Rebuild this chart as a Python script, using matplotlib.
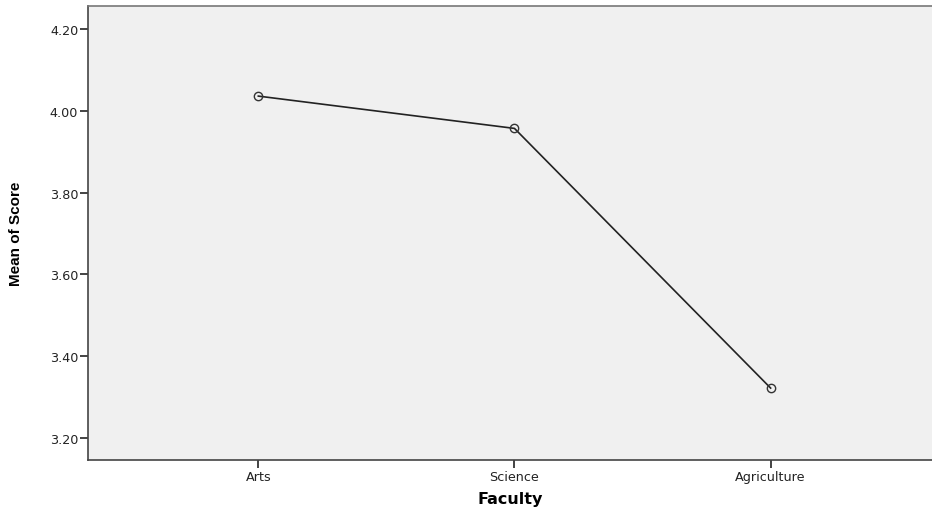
import matplotlib.pyplot as plt

# data
faculties = ['Arts', 'Science', 'Agriculture']
mean_score = [4.036, 3.957, 3.322]
y_ticks = [3.20, 3.40, 3.60, 3.80, 4.00, 4.20]

fig = plt.figure(figsize=(9.32, 5.10), dpi=100)
ax = fig.add_axes([0.0944, 0.096, 0.9056, 0.890])
ax.set_facecolor('#f0f0f0')

x = range(len(faculties))
ax.plot(x, mean_score, color='#222222', linewidth=1.2, marker='o', markersize=6,
        markerfacecolor='none', markeredgecolor='#333333', markeredgewidth=1.0)

ax.set_xlim(-0.665, 2.63)
ax.set_ylim(3.146, 4.256)
ax.set_xticks(list(x))
ax.set_xticklabels(faculties, fontsize=9.2, family='DejaVu Sans', color='#222222')
ax.set_yticks(y_ticks)
ax.set_yticklabels(['%.2f' % v for v in y_ticks], fontsize=9.2, family='DejaVu Sans', color='#222222')
ax.tick_params(direction='out', length=6, width=1.2, color='#222222', pad=1)

for s in ax.spines.values():
    s.set_color('#444444')
    s.set_linewidth(1.2)
ax.spines['right'].set_visible(False)
ax.spines['top'].set_color('#777777')

ax.set_xlabel('Faculty', fontsize=11.5, fontweight='bold', family='DejaVu Sans', labelpad=6)
ax.set_ylabel('Mean of Score', fontsize=11, fontweight='bold', family='Liberation Sans', labelpad=19)

fig.savefig('out.png', dpi=100)
